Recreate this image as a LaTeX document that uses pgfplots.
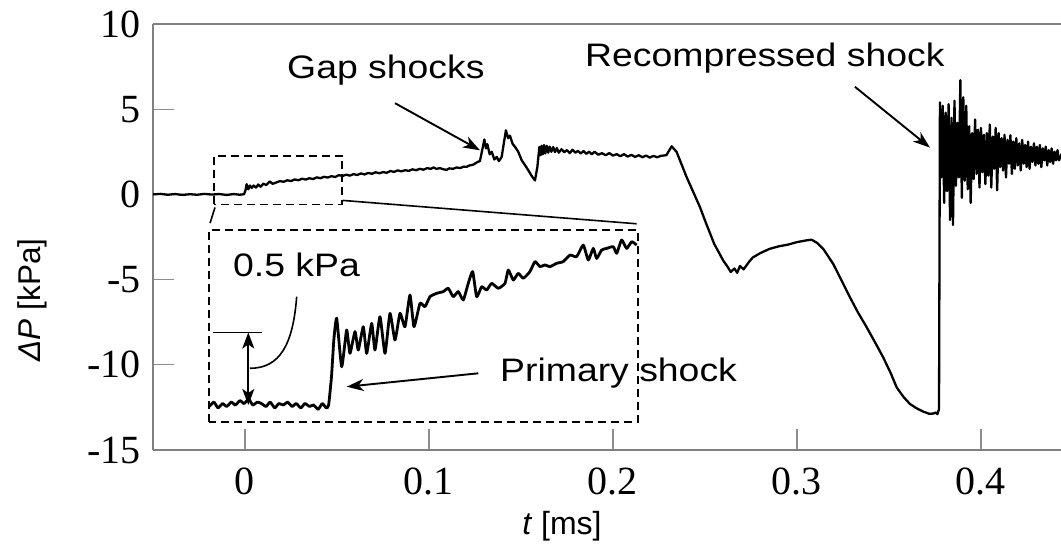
\documentclass[border=0pt]{standalone}
\usepackage{fontspec}
\setmainfont{Liberation Sans}
\newfontfamily\annot{Liberation Sans}[FakeStretch=1.15]
\newfontfamily\tickf{Liberation Serif}
\usepackage{pgfplots}
\pgfplotsset{compat=1.18}
\usetikzlibrary{arrows.meta}

\definecolor{axisgray}{rgb}{0.50,0.50,0.50}
\definecolor{tickgray}{rgb}{0.55,0.55,0.55}
\newcommand\annotfont{\annot\fontsize{32.5bp}{37bp}\selectfont}
\newcommand\tickfont{\tickf\fontsize{40bp}{40bp}\selectfont}
\tikzset{
  callout/.style={line width=1.9bp, -{Stealth[length=17bp,width=12bp,inset=5bp]}},
  zoombox/.style={line width=1.8bp, dash pattern=on 8bp off 5bp},
}

% pressure trace, t in ms, dP in kPa
\pgfplotstableread{
t dP
-0.0500 0.00
-0.0460 0.03
-0.0420 -0.02
-0.0380 0.02
-0.0340 -0.03
-0.0300 0.01
-0.0260 -0.02
-0.0220 0.03
-0.0180 -0.01
-0.0140 0.02
-0.0100 -0.03
-0.0060 0.02
-0.0030 -0.02
-0.0005 0.01
0.0003 0.25
0.0009 0.60
0.0018 0.30
0.0027 0.52
0.0037 0.38
0.0047 0.52
0.0060 0.40
0.0072 0.58
0.0085 0.45
0.0100 0.63
0.0115 0.55
0.0135 0.76
0.0150 0.62
0.0170 0.70
0.0190 0.78
0.0210 0.74
0.0230 0.83
0.0250 0.78
0.0270 0.88
0.0290 0.83
0.0310 0.92
0.0330 0.87
0.0350 0.95
0.0370 0.90
0.0390 1.00
0.0410 0.95
0.0430 1.03
0.0450 0.99
0.0470 1.07
0.0490 1.02
0.0510 1.13
0.0530 1.08
0.0550 1.16
0.0570 1.10
0.0590 1.19
0.0610 1.14
0.0630 1.23
0.0650 1.17
0.0670 1.26
0.0690 1.21
0.0710 1.30
0.0730 1.24
0.0750 1.31
0.0770 1.27
0.0790 1.37
0.0810 1.32
0.0830 1.41
0.0850 1.35
0.0870 1.42
0.0890 1.38
0.0910 1.47
0.0930 1.42
0.0950 1.50
0.0970 1.45
0.0990 1.54
0.1010 1.50
0.1024 1.58
0.1040 1.50
0.1060 1.54
0.1080 1.47
0.1096 1.44
0.1110 1.53
0.1130 1.50
0.1150 1.58
0.1170 1.55
0.1190 1.63
0.1205 1.62
0.1220 1.70
0.1240 1.74
0.1260 1.88
0.1277 1.96
0.1301 3.22
0.1310 2.70
0.1317 2.95
0.1330 2.35
0.1341 2.50
0.1355 2.05
0.1368 2.20
0.1380 1.95
0.1395 2.20
0.1418 3.76
0.1430 3.30
0.1440 3.45
0.1455 2.95
0.1467 2.80
0.1485 2.50
0.1504 2.00
0.1520 1.75
0.1540 1.41
0.1560 1.05
0.1576 0.82
0.1589 1.61
0.1600 2.78
0.1607 2.30
0.1612 2.85
0.1619 2.35
0.1625 2.90
0.1632 2.40
0.1640 2.85
0.1648 2.45
0.1656 2.80
0.1665 2.50
0.1675 2.78
0.1685 2.48
0.1695 2.72
0.1705 2.45
0.1720 2.65
0.1735 2.48
0.1750 2.60
0.1765 2.42
0.1780 2.62
0.1795 2.45
0.1810 2.55
0.1825 2.40
0.1840 2.55
0.1855 2.38
0.1870 2.50
0.1885 2.36
0.1900 2.50
0.1920 2.33
0.1940 2.42
0.1960 2.30
0.1980 2.42
0.2000 2.28
0.2020 2.36
0.2040 2.24
0.2060 2.36
0.2080 2.22
0.2100 2.32
0.2120 2.20
0.2140 2.30
0.2160 2.18
0.2180 2.28
0.2200 2.16
0.2220 2.26
0.2240 2.18
0.2260 2.26
0.2290 2.30
0.2319 2.82
0.2346 2.49
0.2400 1.02
0.2473 -0.75
0.2500 -1.53
0.2550 -2.90
0.2600 -3.90
0.2620 -4.20
0.2640 -4.55
0.2660 -4.35
0.2675 -4.60
0.2690 -4.20
0.2710 -4.40
0.2740 -3.95
0.2760 -3.70
0.2800 -3.45
0.2850 -3.20
0.2900 -3.05
0.2950 -2.95
0.3000 -2.80
0.3050 -2.70
0.3080 -2.66
0.3110 -2.85
0.3143 -3.20
0.3197 -4.08
0.3240 -5.00
0.3288 -6.04
0.3330 -6.90
0.3379 -7.80
0.3420 -8.60
0.3469 -9.57
0.3510 -10.50
0.3542 -11.33
0.3580 -11.90
0.3614 -12.30
0.3650 -12.55
0.3687 -12.75
0.3720 -12.88
0.3741 -12.86
0.3755 -12.80
0.3763 -12.90
0.3772 -12.60
0.3777 5.40
0.3785 1.00
0.3792 5.20
0.3800 -0.50
0.3808 4.80
0.3816 0.20
0.3824 5.30
0.3832 -1.50
0.3840 4.50
0.3848 -1.80
0.3856 5.50
0.3864 0.50
0.3872 4.20
0.3880 1.00
0.3888 6.70
0.3896 -0.20
0.3904 5.70
0.3912 0.80
0.3920 5.20
0.3928 0.30
0.3936 4.00
0.3944 -0.50
0.3952 3.60
0.3960 0.90
0.3968 4.40
0.3976 1.20
0.3984 3.80
0.3992 0.40
0.4000 3.90
0.4008 1.30
0.4016 3.50
0.4024 0.60
0.4032 3.60
0.4040 1.10
0.4048 4.10
0.4056 0.40
0.4064 3.40
0.4072 1.50
0.4080 3.90
0.4088 0.24
0.4096 3.60
0.4104 1.60
0.4112 3.30
0.4120 1.40
0.4128 3.50
0.4136 1.00
0.4144 3.20
0.4152 1.80
0.4160 3.47
0.4168 1.20
0.4176 3.10
0.4184 1.50
0.4192 3.30
0.4200 1.70
0.4208 3.00
0.4216 1.40
0.4224 3.20
0.4232 1.80
0.4240 2.90
0.4248 1.60
0.4256 3.10
0.4264 1.50
0.4272 2.80
0.4280 1.90
0.4288 3.00
0.4296 1.70
0.4304 2.80
0.4312 1.80
0.4320 2.90
0.4328 1.60
0.4336 2.70
0.4344 2.00
0.4352 2.80
0.4360 1.70
0.4368 2.60
0.4376 1.90
0.4384 2.70
0.4392 1.80
0.4400 2.50
0.4408 2.00
0.4416 2.60
0.4424 2.00
0.4432 2.20
0.4440 2.40
}\maintrace

% magnified view of the primary shock
\pgfplotstableread{
t dP
-0.0210 -0.01
-0.0202 0.02
-0.0195 -0.02
-0.0187 0.01
-0.0180 -0.01
-0.0172 0.02
-0.0165 0.00
-0.0157 0.03
-0.0150 0.01
-0.0142 0.04
-0.0135 0.00
-0.0127 0.02
-0.0120 0.01
-0.0112 -0.01
-0.0105 0.02
-0.0097 -0.02
-0.0090 0.01
-0.0082 0.00
-0.0075 0.02
-0.0067 -0.01
-0.0060 0.01
-0.0052 -0.02
-0.0045 0.01
-0.0037 -0.01
-0.0030 0.00
-0.0022 -0.03
-0.0015 0.01
-0.0008 -0.02
-0.0004 0.00
0.0001 0.20
0.0005 0.45
0.00099 0.598
0.00185 0.264
0.00271 0.517
0.00328 0.356
0.00415 0.506
0.00472 0.379
0.00558 0.540
0.00617 0.356
0.00703 0.563
0.00760 0.379
0.00846 0.609
0.00933 0.356
0.01019 0.632
0.01105 0.448
0.01192 0.632
0.01278 0.540
0.01364 0.759
0.01433 0.540
0.01537 0.701
0.01623 0.678
0.01709 0.747
0.01825 0.770
0.01939 0.782
0.02025 0.805
0.02111 0.747
0.02198 0.782
0.02284 0.724
0.02370 0.839
0.02446 0.920
0.02515 0.747
0.02601 0.816
0.02688 0.793
0.02774 0.839
0.02888 0.805
0.03004 0.839
0.03061 0.931
0.03147 0.862
0.03233 0.908
0.03320 0.874
0.03435 0.920
0.03522 0.989
0.03608 0.954
0.03694 0.966
0.03780 0.954
0.03896 0.977
0.04010 0.989
0.04126 1.034
0.04241 1.023
0.04355 1.103
0.04442 1.000
0.04528 1.080
0.04586 1.011
0.04673 1.069
0.04759 1.080
0.04873 1.092
0.04932 1.046
0.05018 1.138
0.05104 1.080
0.05191 1.126
0.05277 1.103
}\insettrace

\begin{document}
\begin{tikzpicture}
\begin{axis}[
  at={(153bp,96bp)}, anchor=south west,
  scale only axis, width=908bp, height=426bp,
  xmin=-0.05, xmax=0.4435, ymin=-15, ymax=10,
  axis x line=box, axis y line=left,
  axis line style={draw=axisgray, line width=1.4bp, -},
  xtick={0,0.1,0.2,0.3,0.4}, xticklabels={0,0.1,0.2,0.3,0.4},
  ytick={-15,-10,-5,0,5,10}, yticklabels={-15,-10,-5,0,5,10},
  xtick pos=left, ytick pos=left,
  tick align=inside, major tick length=21bp,
  every tick/.style={draw=tickgray, line width=1.2bp},
  xticklabel style={font=\tickfont, inner sep=0pt, anchor=north, yshift=-18bp},
  yticklabel style={font=\tickfont, inner sep=0pt, anchor=east, xshift=-12bp},
  every axis x label/.style={at={(axis description cs:0.4504,-0.199)}, anchor=base,
    font=\fontsize{32bp}{36bp}\selectfont, inner sep=0pt},
  every axis y label/.style={at={(axis description cs:-0.1333,0.352)}, rotate=90, anchor=center,
    font=\fontsize{31.5bp}{35bp}\selectfont, inner sep=0pt},
  xlabel={\textit{t} [ms]},
  ylabel={\textit{ΔP} [kPa]},
]
\addplot[black, line width=2.3bp, line join=round] table[x=t, y=dP] {\maintrace};

% region shown magnified below
\draw[zoombox] (axis cs:-0.01685,-0.588) rectangle (axis cs:0.05288,2.253);
\draw[line width=1.6bp] (axis cs:0.0531,-0.353) -- (axis cs:0.21288,-1.724);
\draw[line width=1.6bp] (axis cs:-0.0163,-0.765) -- (axis cs:-0.0190,-1.688);

\node[font=\annotfont, anchor=base west, inner sep=0pt] at (axis cs:0.02283,6.824) {Gap shocks};
\draw[callout] (axis cs:0.08152,5.353) -- (axis cs:0.12772,2.588);
\node[font=\annotfont, anchor=base west, inner sep=0pt] at (axis cs:0.18478,7.529) {Recompressed shock};
\draw[callout] (axis cs:0.33152,6.312) -- (axis cs:0.37228,2.747);
\end{axis}

\begin{axis}[
  at={(209.3bp,124bp)}, anchor=south west,
  scale only axis, width=428.7bp, height=192bp,
  xmin=-0.021, xmax=0.053, ymin=-0.1172, ymax=1.2069,
  xtick=\empty, ytick=\empty,
  axis line style={black, line width=1.8bp, dash pattern=on 8bp off 5bp},
  clip=false,
]
\addplot[black, line width=2.8bp, line join=round, smooth, tension=0.3] table[x=t, y=dP] {\insettrace};

\node[font=\annotfont, anchor=base west, inner sep=0pt] at (axis cs:-0.01691,0.8848) {0.5 kPa};
\draw[line width=1.6bp] (axis cs:-0.00592,0.7469)
  .. controls (axis cs:-0.00655,0.4138) and (axis cs:-0.00886,0.2531) .. (axis cs:-0.01398,0.2531);
\draw[line width=1.6bp] (axis cs:-0.0203,0.5) -- (axis cs:-0.01196,0.5);
\draw[line width=1.9bp, {Stealth[length=16bp,width=12bp,inset=4bp]}-{Stealth[length=16bp,width=12bp,inset=4bp]}]
  (axis cs:-0.01427,0.5) -- (axis cs:-0.01427,0.0);
\node[font=\annotfont, anchor=base west, inner sep=0pt] at (axis cs:0.02918,0.1607) {Primary shock};
\draw[callout] (axis cs:0.02543,0.2186) -- (axis cs:0.00271,0.126);
\end{axis}
\pgfresetboundingbox
\useasboundingbox (0,0) rectangle (1061bp,546bp);
\end{tikzpicture}
\end{document}
